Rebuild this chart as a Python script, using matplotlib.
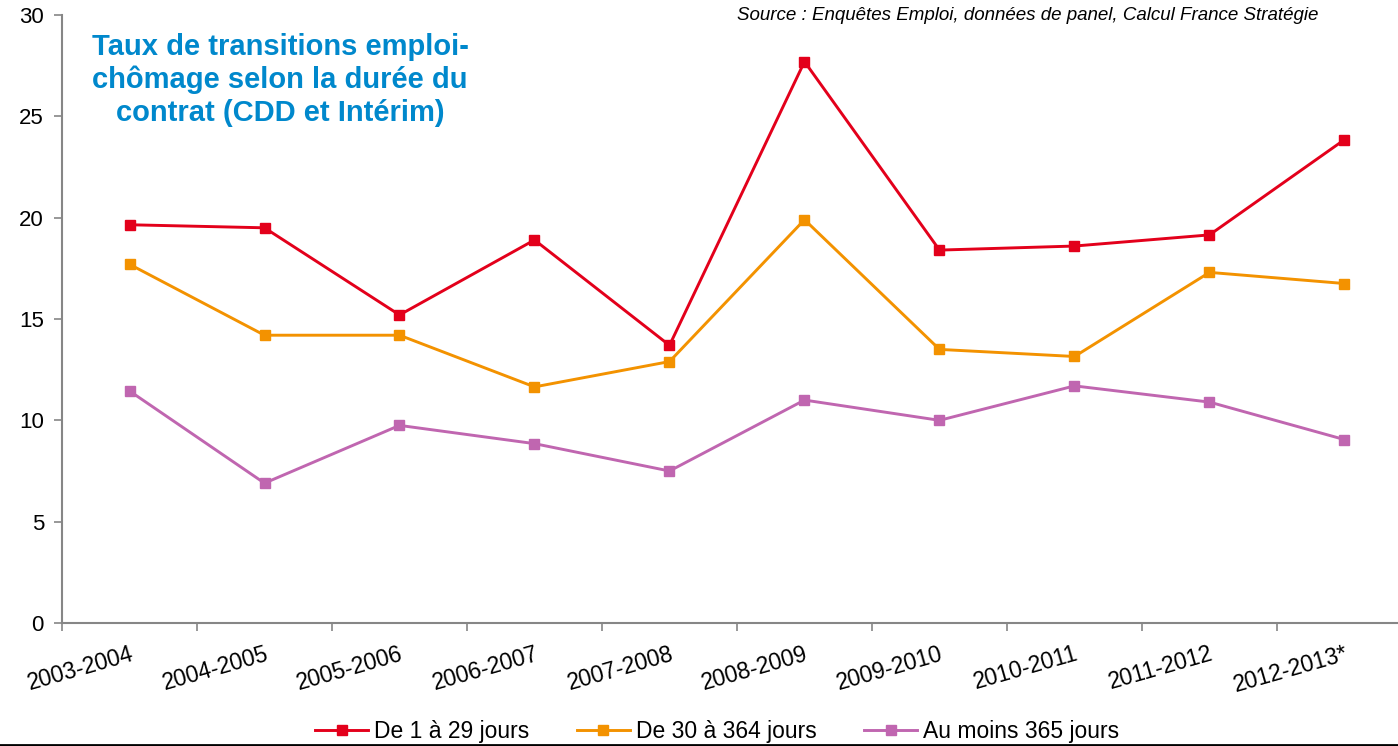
import numpy as np
import matplotlib.pyplot as plt

plt.rcParams['font.family'] = ['Liberation Sans', 'DejaVu Sans']

periodes = ['2003-2004', '2004-2005', '2005-2006', '2006-2007', '2007-2008',
            '2008-2009', '2009-2010', '2010-2011', '2011-2012', '2012-2013*']
court = [19.65, 19.5, 15.2, 18.9, 13.7, 27.7, 18.4, 18.6, 19.15, 23.85]
moyen = [17.7, 14.2, 14.2, 11.65, 12.9, 19.9, 13.5, 13.15, 17.3, 16.75]
long_ = [11.45, 6.9, 9.75, 8.85, 7.5, 11.0, 10.0, 11.7, 10.9, 9.05]

noms = ['De 1 à 29 jours', 'De 30 à 364 jours', 'Au moins 365 jours']
couleurs = ['#E3001B', '#F39200', '#C066B0']

fig = plt.figure(figsize=(13.98, 7.46), dpi=100)
ax = fig.add_axes([62 / 1398, 123 / 746, 1350 / 1398, 608 / 746])

x = np.arange(len(periodes))
for serie, nom, c in zip([court, moyen, long_], noms, couleurs):
    ax.plot(x, serie, color=c, lw=2.1, marker='s', ms=7, label=nom)

ax.set_xlim(-0.5, len(periodes) - 0.5)
ax.set_ylim(0, 30)
ax.set_yticks(range(0, 31, 5))
ax.set_xticks(x)
ax.set_xticklabels(periodes, rotation=16, ha='right', rotation_mode='anchor',
                   fontsize=16.5)
ax.set_xticks(np.arange(-0.5, len(periodes), 1), minor=True)
ax.tick_params(axis='x', which='major', length=0, pad=14)
ax.tick_params(axis='x', which='minor', length=6, color='#868686', width=1.2)
ax.tick_params(axis='y', length=6, color='#868686', width=1.2, labelsize=16, pad=7)
for s in ['top', 'right']:
    ax.spines[s].set_visible(False)
for s in ['left', 'bottom']:
    ax.spines[s].set_color('#868686')
    ax.spines[s].set_linewidth(1.5)

fig.text(280 / 1398, 1 - 80 / 746,
         'Taux de transitions emploi-\nchômage selon la durée du\ncontrat (CDD et Intérim)',
         color='#0088CC', fontsize=21, fontweight='bold', ha='center', va='center',
         linespacing=1.2)
fig.text(1318 / 1398, 1 - 15 / 746,
         'Source : Enquêtes Emploi, données de panel, Calcul France Stratégie',
         style='italic', fontsize=13.5, ha='right', va='center')

fig.legend(loc='lower center', bbox_to_anchor=(0.513, -0.023), ncol=3, frameon=False,
           fontsize=16.5, handlelength=2.3, columnspacing=2.1, handletextpad=0.25)

fig.add_artist(plt.Line2D([0, 1], [1 / 746, 1 / 746], color='black', lw=2,
                          transform=fig.transFigure))

fig.savefig('out.png', dpi=100)
